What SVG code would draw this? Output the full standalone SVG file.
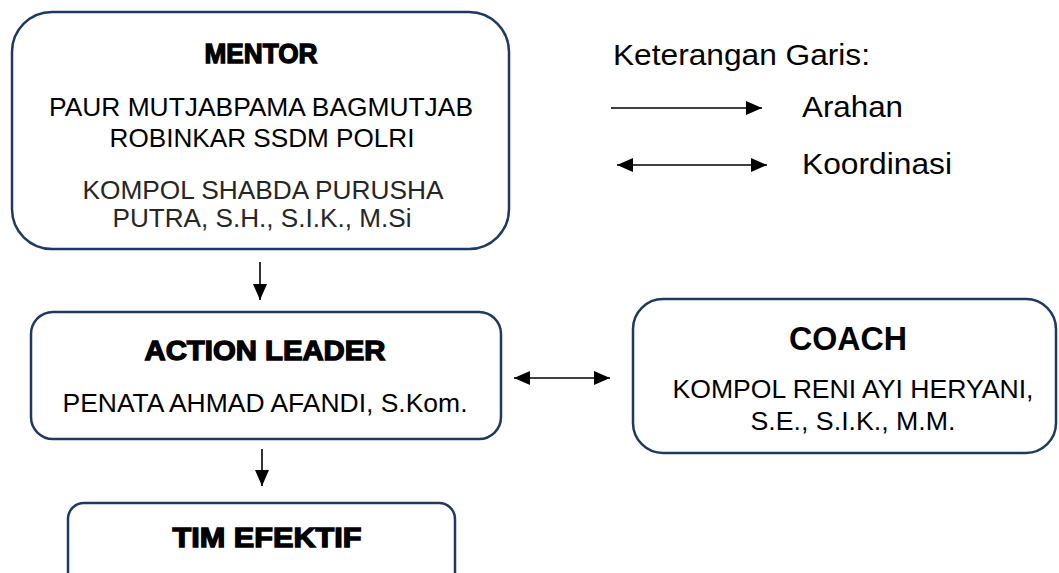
<svg xmlns="http://www.w3.org/2000/svg" width="1059" height="573" viewBox="0 0 1059 573">
<style>
.box{fill:#fff;stroke:#1f3a60;stroke-width:2.5}
.t{font-family:"Liberation Sans",Arial,sans-serif;text-anchor:middle;fill:#000}
.body{font-size:26.5px}
.head{font-size:27px;font-weight:bold;stroke:#000;stroke-width:1.3;paint-order:stroke}
.leg{font-family:"Liberation Sans",Arial,sans-serif;font-size:30px;fill:#000}
.ln{stroke:#000;stroke-width:1.6;fill:none}
</style>
<defs>
<marker id="ah" markerUnits="userSpaceOnUse" markerWidth="16" markerHeight="14" refX="16" refY="7" orient="auto-start-reverse">
<path d="M0,0 L16,7 L0,14 Z" fill="#000"/>
</marker>
</defs>
<rect width="1059" height="573" fill="#fff"/>
<g id="mentor">
<rect class="box" x="12" y="12" width="497" height="237" rx="40"/>
<text class="t head" x="261" y="63" font-size="24" textLength="113" lengthAdjust="spacingAndGlyphs">MENTOR</text>
<text class="t body" x="261" y="116" textLength="424" lengthAdjust="spacingAndGlyphs">PAUR MUTJABPAMA BAGMUTJAB</text>
<text class="t body" x="262" y="147" textLength="305" lengthAdjust="spacingAndGlyphs">ROBINKAR SSDM POLRI</text>
<text class="t body" x="263" y="199" style="fill:#262626" textLength="361" lengthAdjust="spacingAndGlyphs">KOMPOL SHABDA PURUSHA</text>
<text class="t body" x="262" y="227" style="fill:#262626" textLength="299" lengthAdjust="spacingAndGlyphs">PUTRA, S.H., S.I.K., M.Si</text>
</g>
<g id="action-leader">
<rect class="box" x="31" y="312" width="470" height="127" rx="22"/>
<text class="t head" x="265" y="360" textLength="241" lengthAdjust="spacingAndGlyphs">ACTION LEADER</text>
<text class="t body" x="265" y="412" textLength="405" lengthAdjust="spacingAndGlyphs">PENATA AHMAD AFANDI, S.Kom.</text>
</g>
<g id="tim-efektif">
<rect class="box" x="68" y="503" width="387" height="100" rx="16"/>
<text class="t head" x="267" y="547" textLength="189" lengthAdjust="spacingAndGlyphs">TIM EFEKTIF</text>
</g>
<g id="coach">
<rect class="box" x="633" y="299" width="423" height="154" rx="30"/>
<text class="t" x="848" y="350" font-size="33" font-weight="bold" textLength="118" lengthAdjust="spacingAndGlyphs">COACH</text>
<text class="t body" x="853" y="398" textLength="361" lengthAdjust="spacingAndGlyphs">KOMPOL RENI AYI HERYANI,</text>
<text class="t body" x="853" y="430" textLength="205" lengthAdjust="spacingAndGlyphs">S.E., S.I.K., M.M.</text>
</g>
<g id="legend">
<text class="leg" x="613" y="65" textLength="257" lengthAdjust="spacingAndGlyphs">Keterangan Garis:</text>
<line class="ln" x1="611" y1="108" x2="762" y2="108" marker-end="url(#ah)"/>
<text class="leg" x="802" y="117" textLength="101" lengthAdjust="spacingAndGlyphs">Arahan</text>
<line class="ln" x1="617" y1="165" x2="767" y2="165" marker-start="url(#ah)" marker-end="url(#ah)"/>
<text class="leg" x="802" y="174" textLength="150" lengthAdjust="spacingAndGlyphs">Koordinasi</text>
</g>
<g id="connectors">
<line class="ln" x1="260" y1="262" x2="260" y2="300" marker-end="url(#ah)"/>
<line class="ln" x1="262" y1="449" x2="262" y2="486" marker-end="url(#ah)"/>
<line class="ln" x1="514" y1="378" x2="610" y2="378" marker-start="url(#ah)" marker-end="url(#ah)"/>
</g>
</svg>
